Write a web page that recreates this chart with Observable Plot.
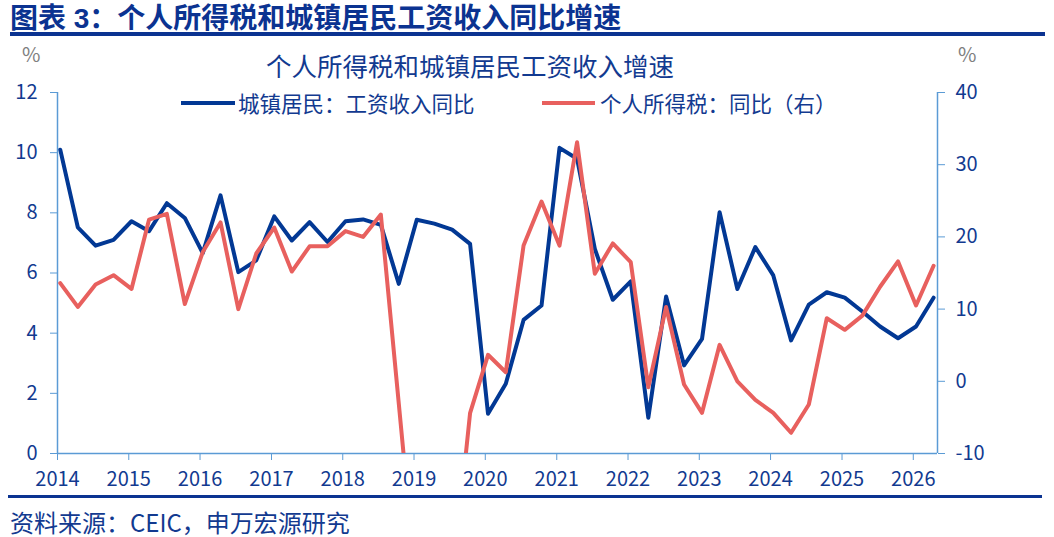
<!DOCTYPE html>
<html><head><meta charset="utf-8">
<script src="https://cdn.jsdelivr.net/npm/d3@7"></script>
<script src="https://cdn.jsdelivr.net/npm/@observablehq/plot@0.6"></script>
<style>
html,body{margin:0;padding:0;background:#fff;}
body{width:1054px;height:537px;overflow:hidden;position:relative;font-family:"Noto Sans CJK SC","Noto Sans",sans-serif;}
.abs{position:absolute;white-space:nowrap;line-height:1.15;}
</style></head><body>
<div class="abs" style="left:10px;top:3px;font-family:'Liberation Sans','Noto Sans CJK SC',sans-serif;font-size:28px;font-weight:bold;color:#0b3391;">图表 3：个人所得税和城镇居民工资收入同比增速</div>
<div class="abs" style="left:10px;top:32px;width:1035px;height:4px;background:#0b3391"></div>
<div id="chart" class="abs" style="left:0;top:40px;"></div>
<div class="abs" style="left:266px;top:50px;font-size:25.5px;color:#123a90;">个人所得税和城镇居民工资收入增速</div>
<div class="abs" style="left:22px;top:42px;font-size:20px;color:#7f7f7f;">%</div>
<div class="abs" style="left:958px;top:42px;font-size:20px;color:#7f7f7f;">%</div>
<div class="abs" style="left:181px;top:101px;width:54px;height:4px;background:#023894"></div>
<div class="abs" style="left:238px;top:91px;font-size:21.5px;color:#123a90;">城镇居民：工资收入同比</div>
<div class="abs" style="left:542px;top:101px;width:53px;height:4px;background:#e8605e"></div>
<div class="abs" style="left:600px;top:91px;font-size:21.5px;color:#123a90;">个人所得税：同比（右）</div>
<div class="abs" style="left:8px;top:495px;width:1034px;height:3px;background:#0b3391"></div>
<div class="abs" style="left:10px;top:508px;font-size:24px;color:#123a90;">资料来源：CEIC，申万宏源研究</div>
<script>
// ---- data ----
const quarters = [
  "2014Q1","2014Q2","2014Q3","2014Q4","2015Q1","2015Q2","2015Q3","2015Q4",
  "2016Q1","2016Q2","2016Q3","2016Q4","2017Q1","2017Q2","2017Q3","2017Q4",
  "2018Q1","2018Q2","2018Q3","2018Q4","2019Q1","2019Q2","2019Q3","2019Q4",
  "2020Q1","2020Q2","2020Q3","2020Q4","2021Q1","2021Q2","2021Q3","2021Q4",
  "2022Q1","2022Q2","2022Q3","2022Q4","2023Q1","2023Q2","2023Q3","2023Q4",
  "2024Q1","2024Q2","2024Q3","2024Q4","2025Q1","2025Q2","2025Q3","2025Q4",
  "2026Q1","2026Q2"
];
// 城镇居民：工资收入同比 (left axis, %)
const wageYoY = [
  10.1, 7.52, 6.91, 7.10, 7.72, 7.39, 8.32, 7.83,
  6.66, 8.58, 6.03, 6.42, 7.88, 7.08, 7.69, 7.03,
  7.72, 7.78, 7.60, 5.64, 7.77, 7.64, 7.44, 6.97,
  1.32, 2.32, 4.44, 4.92, 10.16, 9.80, 6.80, 5.11,
  5.72, 1.19, 5.22, 2.93, 3.81, 8.02, 5.47, 6.86,
  5.92, 3.76, 4.95, 5.36, 5.18, 4.72, 4.22, 3.83,
  4.22, 5.18
];
// 个人所得税：同比 (right axis, %)
const iitYoY = [
  13.6, 10.3, 13.4, 14.7, 12.8, 22.4, 23.2, 10.7,
  17.9, 22.0, 10.0, 17.7, 21.3, 15.2, 18.7, 18.7,
  20.8, 20.0, 23.1, null, -29.3, -29.5, -28.4, -4.42,
  3.67, 1.26, 18.8, 24.9, 18.8, 33.1, 14.9, 19.1,
  16.5, -0.82, 10.3, -0.44, -4.37, 5.05, 0.0, -2.57,
  -4.37, -7.13, -3.21, 8.74, 7.13, 9.1, 13.1, 16.6,
  10.5, 16.0
];
const leftTicks = [0, 2, 4, 6, 8, 10, 12];
const rightTicks = [-10, 0, 10, 20, 30, 40];
const yearTicks = [2014,2015,2016,2017,2018,2019,2020,2021,2022,2023,2024,2025,2026];

// ---- build ----
const blue = "#023894", red = "#e8605e", axisColor = "#5b9bd5", textColor = "#123a90";
const leftDomain = [0, 12], rightDomain = [-10, 40];
const toDate = q => new Date(+q.slice(0, 4), (+q[5] - 1) * 3, 15);
const rightToLeft = v => leftDomain[0] + (v - rightDomain[0]) * (leftDomain[1] - leftDomain[0]) / (rightDomain[1] - rightDomain[0]);
const leftToRight = v => rightDomain[0] + (v - leftDomain[0]) * (rightDomain[1] - rightDomain[0]) / (leftDomain[1] - leftDomain[0]);
const wageData = quarters.map((q, i) => ({date: toDate(q), v: wageYoY[i]}));
const iitData = quarters.map((q, i) => ({date: toDate(q), v: iitYoY[i]})).filter(d => d.v != null);
const xDomain = [new Date(2014, 0, 1), new Date(2026, 4, 5)];

const chart = Plot.plot({
  width: 1054, height: 455,
  marginLeft: 57, marginRight: 117, marginTop: 52, marginBottom: 42,
  x: {type: "time", domain: xDomain},
  y: {domain: leftDomain},
  style: {fontFamily: "'Noto Sans CJK SC', 'Noto Sans', sans-serif", fontSize: "20px", background: "transparent", color: textColor},
  marks: [
    Plot.axisX(yearTicks.map(y => new Date(y, 0, 1)), {anchor: "bottom", tickSize: 7, tickPadding: 11, tickFormat: d => String(d.getFullYear()), stroke: axisColor, fill: textColor, fontSize: 20, label: null}),
    Plot.axisY(leftTicks, {anchor: "left", tickSize: 7, tickPadding: 13, stroke: axisColor, fill: textColor, fontSize: 20, label: null}),
    Plot.axisY(rightTicks.map(rightToLeft), {anchor: "right", tickSize: 7, tickPadding: 11, tickFormat: v => String(Math.round(leftToRight(v))), stroke: axisColor, fill: textColor, fontSize: 20, label: null}),
    Plot.ruleX(xDomain, {stroke: axisColor, strokeWidth: 1.5}),
    Plot.ruleY([0], {stroke: axisColor, strokeWidth: 1.5}),
    Plot.line(wageData, {x: "date", y: "v", stroke: blue, strokeWidth: 4, strokeLinejoin: "round"}),
    Plot.line(iitData, {x: "date", y: d => rightToLeft(d.v), stroke: red, strokeWidth: 4, strokeLinejoin: "round", clip: true})
  ]
});
document.getElementById("chart").appendChild(chart);
</script>
</body></html>
